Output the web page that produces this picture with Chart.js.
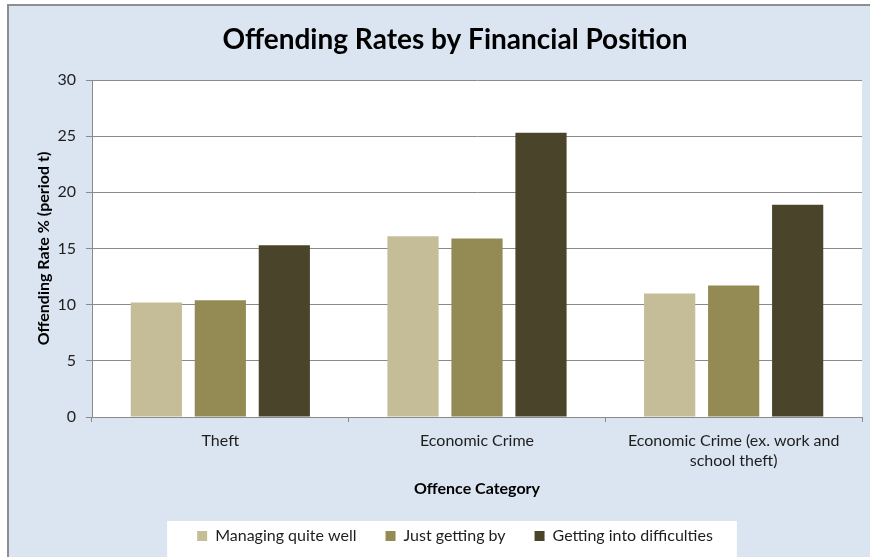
<!DOCTYPE html>
<html>
<head>
<meta charset="utf-8">
<title>Offending Rates by Financial Position</title>
<script src="https://cdn.jsdelivr.net/npm/chart.js@4/dist/chart.umd.min.js"></script>
<style>
  html, body { margin: 0; padding: 0; background: #fff; }
  canvas { display: block; }
</style>
</head>
<body>
<canvas id="chart" width="870" height="557"></canvas>
<script>
'use strict';

const categories = ['Theft', 'Economic Crime', ['Economic Crime (ex. work and', 'school theft)']];
const seriesNames = ['Managing quite well', 'Just getting by', 'Getting into difficulties'];
const managingWell = [10.2, 16.1, 11.0];
const justGettingBy = [10.4, 15.9, 11.7];
const gettingIntoDifficulties = [15.3, 25.3, 18.9];
const yTicks = [0, 5, 10, 15, 20, 25, 30];

const barColors = ['#C4BD97', '#948A54', '#4A452A'];
const lineGrey = '#8A8A8A';
const textColor = '#1E1E1E';
const fontFamily = 'Lato, "Open Sans", sans-serif';

// light blue chart frame, white plot area and white box behind the legend
const framePlugin = {
    id: 'frame',
    beforeDraw(chart) {
        const ctx = chart.ctx;
        const area = chart.chartArea;
        ctx.save();
        ctx.fillStyle = '#ffffff';
        ctx.fillRect(0, 0, chart.width, chart.height);
        ctx.fillStyle = '#DBE5F1';
        ctx.fillRect(8, 5, chart.width - 8, chart.height - 5);
        ctx.strokeStyle = '#8E8E8E';
        ctx.lineWidth = 2;
        ctx.beginPath();
        ctx.moveTo(8, chart.height);
        ctx.lineTo(8, 5);
        ctx.lineTo(chart.width, 5);
        ctx.stroke();

        ctx.fillStyle = '#ffffff';
        ctx.fillRect(area.left, area.top, area.right - area.left, area.bottom - area.top);

        const boxes = chart.legend.legendHitBoxes;
        if (boxes && boxes.length) {
            const first = boxes[0];
            const last = boxes[boxes.length - 1];
            const left = first.left - 30;
            const right = last.left + last.width + 24;
            const mid = first.top + first.height / 2;
            ctx.fillRect(left, mid - 15, right - left, chart.height);
        }
        ctx.restore();
    }
};

const datasets = [managingWell, justGettingBy, gettingIntoDifficulties].map((values, i) => ({
    label: seriesNames[i],
    data: values,
    backgroundColor: barColors[i],
    borderWidth: 0,
    categoryPercentage: 0.748,
    barPercentage: 0.8
}));

const chart = new Chart(document.getElementById('chart'), {
    type: 'bar',
    data: {
        labels: categories,
        datasets: datasets
    },
    plugins: [framePlugin],
    options: {
        responsive: false,
        animation: false,
        devicePixelRatio: 1,
        layout: {
            padding: { left: 48, right: 8, top: 0, bottom: 3 }
        },
        scales: {
            x: {
                offset: true,
                grid: {
                    offset: true,
                    drawOnChartArea: false,
                    drawTicks: true,
                    tickLength: 5,
                    color: lineGrey
                },
                border: { display: true, color: lineGrey, width: 1 },
                ticks: {
                    color: textColor,
                    padding: 8,
                    maxRotation: 0,
                    autoSkip: false,
                    font: { family: fontFamily, size: 16, lineHeight: 1.3 }
                },
                title: {
                    display: true,
                    text: 'Offence Category',
                    color: '#000',
                    padding: { top: 0, bottom: 0.4 },
                    font: { family: fontFamily, size: 16, weight: 'bold' }
                },
                afterFit(scale) {
                    scale.height = 557 - 417 - 3 - scale.chart.legend.height;
                }
            },
            y: {
                min: yTicks[0],
                max: yTicks[yTicks.length - 1],
                grid: {
                    color: lineGrey,
                    drawTicks: true,
                    tickLength: 6
                },
                border: { display: true, color: lineGrey, width: 1 },
                ticks: {
                    stepSize: yTicks[1] - yTicks[0],
                    color: textColor,
                    padding: 10,
                    font: { family: fontFamily, size: 16 }
                },
                title: {
                    display: true,
                    text: 'Offending Rate % (period t)',
                    color: '#000',
                    padding: { top: -14, bottom: 0 },
                    font: { family: fontFamily, size: 16, weight: 'bold' }
                },
                afterFit(scale) {
                    scale.width = 44;
                }
            }
        },
        plugins: {
            title: {
                display: true,
                text: 'Offending Rates by Financial Position',
                color: '#000',
                padding: { top: 23, bottom: 23.4 },
                font: { family: fontFamily, size: 28, weight: 'bold' }
            },
            legend: {
                position: 'bottom',
                labels: {
                    color: textColor,
                    boxWidth: 10,
                    boxHeight: 10,
                    padding: 29,
                    font: { family: fontFamily, size: 16 }
                }
            },
            tooltip: { enabled: false }
        }
    }
});
</script>
</body>
</html>
